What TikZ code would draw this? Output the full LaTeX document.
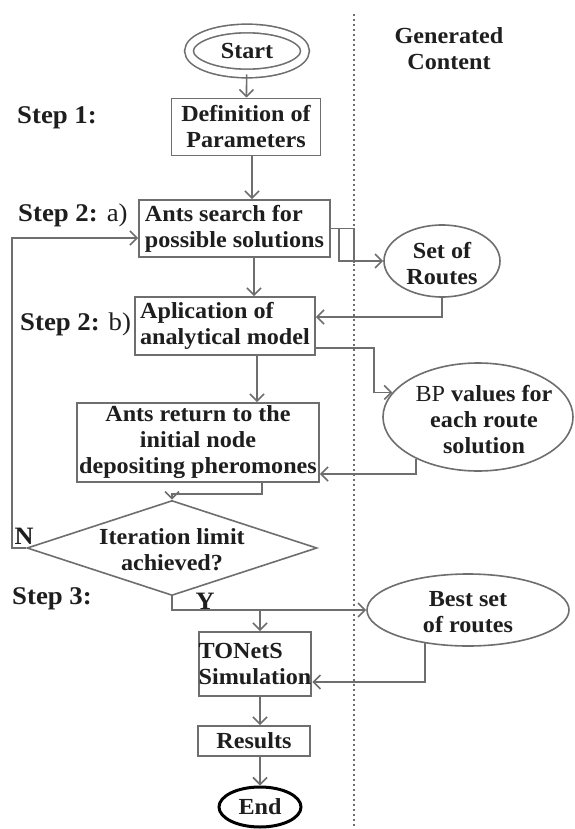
\documentclass[tikz,border=0pt]{standalone}
\usepackage{fontspec}
\setmainfont[FakeStretch=1.05]{Liberation Serif}
\usetikzlibrary{shapes.geometric,arrows.meta}
\definecolor{ln}{HTML}{6E6E6E}
\definecolor{tx}{HTML}{1E1E1E}
\begin{document}
\begin{tikzpicture}[x=1pt,y=-1pt,
  font=\fontsize{23}{26}\selectfont\bfseries, text=tx,
  box/.style={draw=ln, line width=1.8pt, rectangle, inner sep=0pt},
  oval/.style={draw=ln, line width=1.6pt, ellipse, inner sep=0pt},
  lbl/.style={inner sep=0pt, anchor=west, font=\fontsize{25.5}{28}\selectfont\bfseries},
  conn/.style={draw=ln, line width=1.6pt},
  arr/.style={conn, -{Straight Barb[length=7pt,width=14pt]}},
  dots/.style={draw=ln, line width=2pt, dash pattern=on 2pt off 3pt}]
\useasboundingbox (0,0) rectangle (574,829);
\fill[white] (0,0) rectangle (574,829);

% separator
\coordinate (sepTop) at (354,14);
\coordinate (sepBot) at (354,829);
\draw[dots] (sepTop) -- (sepBot);

\node[align=center, inner sep=0pt] (gen) at (449,49) {Generated\\Content};

% nodes
\node[oval, double, double distance=7pt, minimum width=116pt, minimum height=45pt] (start) at (247,51) {Start};
\node[box, minimum width=149pt, minimum height=57pt, align=center] (def) at (246,127) {Definition of\\Parameters};
\node[box, minimum width=191pt, minimum height=57pt, align=left] (ants) at (234.5,228.5) {Ants search for\\possible solutions};
\node[box, minimum width=180pt, minimum height=58pt, align=left] (apl) at (225,326) {Aplication of\\analytical model};
\node[box, minimum width=242pt, minimum height=79pt, align=center] (ret) at (198,442.5) {Ants return to the\\initial node\\depositing pheromones};
\node[draw=ln, line width=1.6pt, diamond, minimum width=290pt, minimum height=95pt, inner sep=0pt] (iter) at (172,548) {};
\node[align=center, inner sep=0pt] (itertxt) at (172,550) {Iteration limit\\achieved?};
\node[box, minimum width=110pt, minimum height=64pt, align=left] (tonets) at (255,664) {TONetS\\Simulation};
\node[box, minimum width=112pt, minimum height=30pt] (res) at (254,741) {Results};
\node[draw=black, line width=3pt, ellipse, inner sep=0pt, minimum width=82pt, minimum height=40pt] (end) at (260,807) {End};

\node[oval, minimum width=116pt, minimum height=72pt] (setr) at (442,261) {};
\node[align=center, inner sep=0pt] (setrtxt) at (442,264) {Set of\\Routes};
\node[oval, minimum width=190pt, minimum height=108pt] (bp) at (478,417) {};
\node[align=center, inner sep=0pt] (bptxt) at (484,420) {{\mdseries BP} values for\\each route\\solution};
\node[oval, minimum width=202pt, minimum height=72pt] (best) at (468,610) {};
\node[align=center, inner sep=0pt] (besttxt) at (468,612) {Best set\\of routes};

% labels
\node[lbl] (s1) at (17,118) {Step 1:};
\node[lbl] (s2a) at (18,215) {Step 2:\hspace{9pt}{\mdseries a)}};
\node[lbl] (s2b) at (20,324) {Step 2: {\mdseries b)}};
\node[lbl] (s3) at (12,599) {Step 3:};
\node[inner sep=0pt, font=\fontsize{25}{26}\selectfont\bfseries] (nlab) at (24,536) {N};
\node[inner sep=0pt, font=\fontsize{25}{26}\selectfont\bfseries] (ylab) at (205,601) {Y};

% connectors
\draw[arr] (start) -- (def);
\draw[arr] (252,0 |- def.south) -- (252,0 |- ants.north);
\draw[arr] (254,0 |- ants.south) -- (254,0 |- apl.north);
\draw[arr] (257,0 |- apl.south) -- (257,0 |- ret.north);
\draw[arr] (262,0 |- ret.south) -- (262,494) -| (iter.north);
\draw[arr] (iter.west) -- (12,548) -- (12,238) -- (ants.west |- 12,238);
\draw[conn] (ants.east) -- (354,228.5) -- (354,263);
\draw[arr] (339,228.5) |- (setr.west);
\draw[arr] (setr.south) -- (442,317) -- (apl.east |- 442,317);
\draw[arr] (apl.east |- 0,348) -- (374,348) |- (bp.164);
\draw[arr] (bp.214) |- (ret.east |- 0,474);
\draw[arr] (iter.south) |- (best.west);
\draw[arr] (260,610) -- (260,0 |- tonets.north);
\draw[arr] (best.218) |- (tonets.east |- 0,682);
\draw[arr] (260,0 |- tonets.south) -- (260,0 |- res.north);
\draw[arr] (260,0 |- res.south) -- (end.north);
\end{tikzpicture}
\end{document}
